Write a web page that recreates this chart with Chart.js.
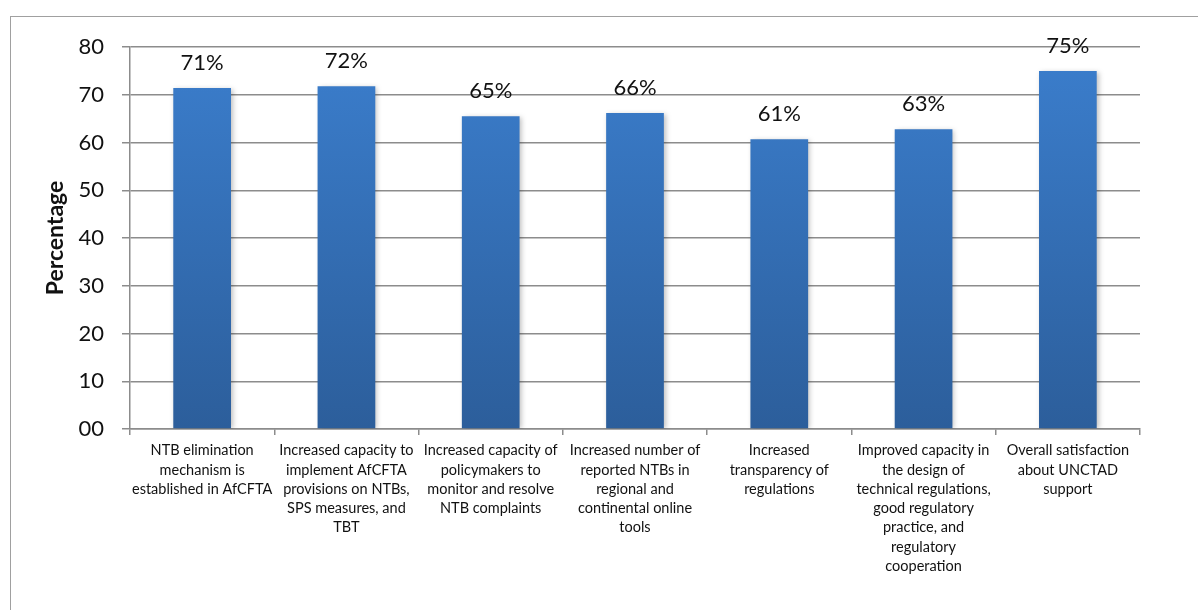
<!DOCTYPE html>
<html>
<head>
<meta charset="utf-8">
<script src="https://cdn.jsdelivr.net/npm/chart.js@4/dist/chart.umd.min.js"></script>
<style>
    html, body { margin: 0; padding: 0; background: #fff; overflow: hidden; }
    #wrap { position: relative; width: 1198px; height: 610px; }
    #frame { position: absolute; left: 10px; top: 16px; width: 1300px; height: 700px; border: 1.5px solid #a0a0a0; box-sizing: border-box; }
    #grafico { position: absolute; left: 0; top: 0; }
</style>
</head>
<body>
<div id="wrap">
    <div id="frame"></div>
    <canvas id="grafico" width="1198" height="610"></canvas>
</div>
<script>
    // Datos
    const categorias = [
        ['NTB elimination', 'mechanism is', 'established in AfCFTA'],
        ['Increased capacity to', 'implement AfCFTA', 'provisions on NTBs,', 'SPS measures, and', 'TBT'],
        ['Increased capacity of', 'policymakers to', 'monitor and resolve', 'NTB complaints'],
        ['Increased number of', 'reported NTBs in', 'regional and', 'continental online', 'tools'],
        ['Increased', 'transparency of', 'regulations'],
        ['Improved capacity in', 'the design of', 'technical regulations,', 'good regulatory', 'practice, and', 'regulatory', 'cooperation'],
        ['Overall satisfaction', 'about UNCTAD', 'support']
    ];
    const valores = [71.4, 71.8, 65.5, 66.2, 60.7, 62.8, 75.0];
    const etiquetas = ['71%', '72%', '65%', '66%', '61%', '63%', '75%'];
    const ticksY = [0, 10, 20, 30, 40, 50, 60, 70, 80];

    const fuente = "Lato, 'Open Sans', sans-serif";
    const gris = '#8c8c8c';

    // Degradado de las barras
    function degradado(ctx) {
        const area = ctx.chart.chartArea;
        if (!area) return '#3a7bc8';
        const g = ctx.chart.ctx.createLinearGradient(0, area.top, 0, area.bottom);
        g.addColorStop(0, '#3b7ecd');
        g.addColorStop(1, '#2c5e9b');
        return g;
    }

    // Sombra suave bajo las barras
    const sombra = {
        id: 'sombra',
        beforeDatasetsDraw(chart) {
            const c = chart.ctx;
            c.save();
            c.shadowColor = 'rgba(0,0,0,0.25)';
            c.shadowBlur = 5;
            c.shadowOffsetX = 2;
            c.shadowOffsetY = 1;
        },
        afterDatasetsDraw(chart) {
            chart.ctx.restore();
        }
    };

    // Etiquetas de porcentaje sobre las barras
    const etiquetasBarras = {
        id: 'etiquetasBarras',
        afterDraw(chart) {
            const c = chart.ctx;
            const meta = chart.getDatasetMeta(0);
            c.save();
            c.font = '22px ' + fuente;
            c.fillStyle = '#111';
            c.textAlign = 'center';
            c.textBaseline = 'middle';
            meta.data.forEach((bar, i) => {
                c.fillText(etiquetas[i], bar.x, bar.y - 25);
            });
            c.restore();
        }
    };

    new Chart(document.getElementById('grafico'), {
        type: 'bar',
        data: {
            labels: categorias,
            datasets: [{
                data: valores,
                backgroundColor: degradado,
                barPercentage: 0.4,
                categoryPercentage: 1.0
            }]
        },
        options: {
            responsive: false,
            animation: false,
            layout: { padding: { left: 0, top: 47, right: 58, bottom: 0 } },
            plugins: {
                legend: { display: false },
                tooltip: { enabled: false }
            },
            scales: {
                x: {
                    grid: {
                        offset: true,
                        drawOnChartArea: false,
                        drawTicks: true,
                        tickLength: 6,
                        color: gris,
                        lineWidth: 1.5
                    },
                    border: { color: gris, width: 1.5 },
                    ticks: {
                        maxRotation: 0,
                        autoSkip: false,
                        padding: 6,
                        color: '#111',
                        font: { family: fuente, size: 14.5, lineHeight: 1.33 }
                    },
                    afterFit: s => { s.height = 181; }
                },
                y: {
                    min: 0,
                    max: 80,
                    afterBuildTicks: s => { s.ticks = ticksY.map(v => ({ value: v })); },
                    grid: {
                        color: gris,
                        lineWidth: 1.5,
                        tickLength: 8
                    },
                    border: { color: gris, width: 1.5 },
                    ticks: {
                        padding: 18,
                        color: '#111',
                        font: { family: fuente, size: 22 },
                        callback: v => v === 0 ? '00' : String(v)
                    },
                    title: {
                        display: true,
                        text: 'Percentage',
                        color: '#111',
                        padding: { top: 42 },
                        font: { family: fuente, size: 23, weight: 'bold' }
                    },
                    afterFit: s => { s.width = 130; }
                }
            }
        },
        plugins: [sombra, etiquetasBarras]
    });
</script>
</body>
</html>
